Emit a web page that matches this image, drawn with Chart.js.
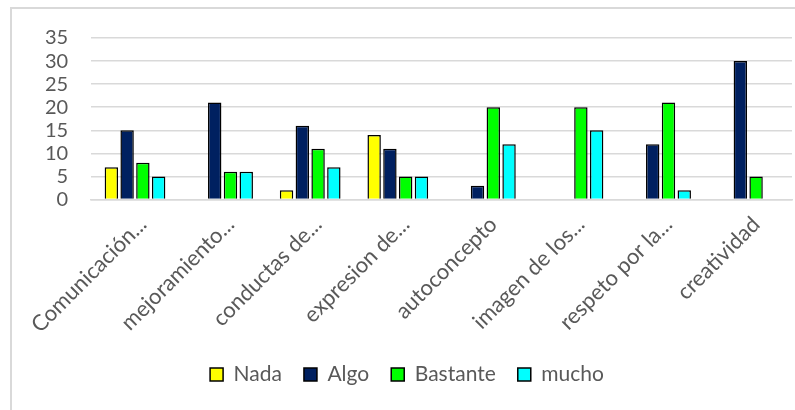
<!DOCTYPE html>
<html>
<head>
<meta charset="utf-8">
<script src="https://cdn.jsdelivr.net/npm/chart.js@4"></script>
<style>
    html, body { margin: 0; padding: 0; background: #fff; }
    .frame {
        position: absolute;
        left: 10px; top: 7px;
        width: 790px; height: 410px;
        border-left: 2px solid #d9d9d9;
        border-top: 2px solid #d9d9d9;
        box-sizing: border-box;
    }
    .chart-box {
        position: absolute;
        left: 12px; top: 3px;
        width: 783px; height: 407px;
    }
</style>
</head>
<body>
<div class="frame"></div>
<div class="chart-box"><canvas id="chart"></canvas></div>
<script>
const categories = ['Comunicación...', 'mejoramiento...', 'conductas de...', 'expresion de...',
    'autoconcepto', 'imagen de los...', 'respeto por la...', 'creatividad'];
const nada = [7, 0, 2, 14, 0, 0, 0, 0];
const algo = [15, 21, 16, 11, 3, 0, 12, 30];
const bastante = [8, 6, 11, 5, 20, 20, 21, 5];
const mucho = [5, 6, 7, 5, 12, 15, 2, 0];
const yTicks = [0, 5, 10, 15, 20, 25, 30, 35];

const textColor = '#595959';
const gridColor = '#d9d9d9';
const fontFamily = 'Lato, "Open Sans", sans-serif';

// zero values are not drawn, as in the original
const hideZero = arr => arr.map(v => v === 0 ? null : v);

const makeSet = (label, data, color) => ({
    label: label,
    data: hideZero(data),
    backgroundColor: color,
    borderColor: '#000000',
    borderWidth: 1.5,
    borderSkipped: 'bottom',
    categoryPercentage: 0.72,
    barPercentage: 0.85
});

new Chart(document.getElementById('chart'), {
    type: 'bar',
    data: {
        labels: categories,
        datasets: [
            makeSet('Nada', nada, '#ffff00'),
            makeSet('Algo', algo, '#002060'),
            makeSet('Bastante', bastante, '#00ff00'),
            makeSet('mucho', mucho, '#00ffff')
        ]
    },
    options: {
        responsive: true,
        maintainAspectRatio: false,
        animation: false,
        layout: {
            padding: { left: 10, right: 3, top: 11, bottom: 15 }
        },
        plugins: {
            tooltip: { enabled: false },
            legend: {
                position: 'bottom',
                labels: {
                    color: textColor,
                    boxWidth: 13,
                    boxHeight: 13,
                    padding: 22,
                    font: { family: fontFamily, size: 21 },
                    generateLabels(chart) {
                        return chart.data.datasets.map((ds, i) => ({
                            text: ds.label,
                            fillStyle: ds.backgroundColor,
                            strokeStyle: '#000000',
                            lineWidth: 1.5,
                            fontColor: textColor,
                            datasetIndex: i,
                            hidden: false
                        }));
                    }
                }
            }
        },
        scales: {
            y: {
                min: 0,
                max: 35,
                afterBuildTicks(axis) {
                    axis.ticks = yTicks.map(v => ({ value: v }));
                },
                grid: { color: gridColor, lineWidth: 1.5, drawTicks: false },
                border: { display: false },
                ticks: {
                    color: textColor,
                    padding: 23,
                    autoSkip: false,
                    font: { family: fontFamily, size: 20 }
                }
            },
            x: {
                grid: { display: false },
                border: { color: gridColor, width: 1.5 },
                ticks: {
                    color: textColor,
                    minRotation: 45,
                    maxRotation: 45,
                    padding: 4,
                    labelOffset: 8,
                    autoSkip: false,
                    font: { family: fontFamily, size: 22 }
                }
            }
        }
    }
});
</script>
</body>
</html>
